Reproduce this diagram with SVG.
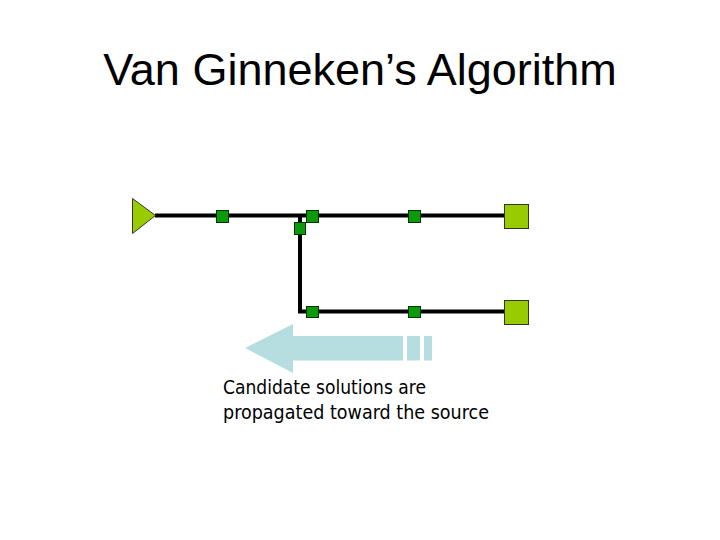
<svg xmlns="http://www.w3.org/2000/svg" width="720" height="540" viewBox="0 0 720 540">
<style>
.wire{stroke:#000;stroke-width:4;fill:none}
.buf{fill:#0A9A0A;stroke:#003300;stroke-width:1}
.sink{fill:#99CC00;stroke:#333;stroke-width:1}
.src{fill:#99CC00;stroke:#333;stroke-width:1}
.title{font-family:"Liberation Sans",Arial,sans-serif;font-size:45px;fill:#000}
.cap{font-family:"DejaVu Sans",Tahoma,sans-serif;font-size:19px;fill:#000}
.arrow{fill:#B6DDE0}
</style>
<rect width="720" height="540" fill="#fff"/>
<text class="title" x="360" y="85" text-anchor="middle">Van Ginneken’s Algorithm</text>
<g id="connectors">
<polyline class="wire" points="155,215.5 505,215.5"/>
<polyline class="wire" points="300,215.5 300,311.5 505,311.5"/>
</g>
<g id="source"><polygon class="src" points="132.5,198.5 155.5,215.5 132.5,233.5"/></g>
<g id="buf1"><rect class="buf" x="216.5" y="210.5" width="12" height="12"/></g>
<g id="buf2"><rect class="buf" x="306.5" y="210.5" width="12" height="12"/></g>
<g id="buf3"><rect class="buf" x="294.5" y="222.5" width="11" height="12"/></g>
<g id="buf4"><rect class="buf" x="408.5" y="210.5" width="12" height="12"/></g>
<g id="buf5"><rect class="buf" x="306.5" y="306.5" width="12" height="11"/></g>
<g id="buf6"><rect class="buf" x="408.5" y="306.5" width="12" height="11"/></g>
<g id="sink1"><rect class="sink" x="504.5" y="204.5" width="24" height="24"/></g>
<g id="sink2"><rect class="sink" x="504.5" y="300.5" width="24" height="24"/></g>
<g id="arrow">
<polygon class="arrow" points="245,348 293,324 293,336 403,336 403,360.5 293,360.5 293,373"/>
<rect class="arrow" x="407" y="336" width="13" height="24.5"/>
<rect class="arrow" x="424" y="336" width="8" height="24.5"/>
</g>
<text class="cap" x="223" y="394" textLength="203" lengthAdjust="spacingAndGlyphs">Candidate solutions are</text>
<text class="cap" x="223" y="419" textLength="266" lengthAdjust="spacingAndGlyphs">propagated toward the source</text>
</svg>
